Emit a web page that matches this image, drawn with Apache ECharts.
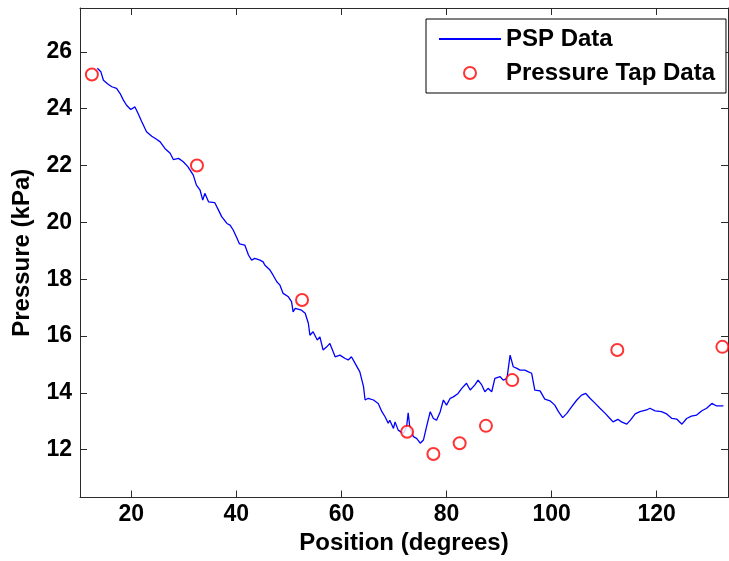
<!DOCTYPE html>
<html>
<head>
<meta charset="utf-8">
<script src="https://cdn.jsdelivr.net/npm/echarts@6/dist/echarts.min.js"></script>
<style>
  html, body { margin: 0; padding: 0; background: #ffffff; }
  #chart { width: 729px; height: 561px; }
</style>
</head>
<body>
<div id="chart"></div>
<script>
// PSP trace: position (degrees) and pressure (kPa)
const pspPosition = [
  13.55, 14.2, 14.7, 15.6, 16.3, 17.2, 17.85, 18.5, 19.1, 19.9,
  20.7, 21.3, 22.0, 22.9, 23.9, 24.8, 25.5, 26.4, 27.4, 28.0,
  29.0, 29.9, 30.8, 31.8, 32.4, 33.1, 33.6, 34.0, 34.7, 35.9,
  36.6, 37.2, 38.2, 38.8, 39.4, 40.1, 40.6, 41.6, 42.3, 42.9,
  43.5, 44.5, 45.1, 45.4, 46.4, 47.0, 47.7, 48.3, 48.9, 49.9,
  50.5, 50.8, 51.2, 52.4, 53.1, 53.7, 54.0, 54.6, 55.4, 55.9,
  56.5, 57.2, 57.8, 58.8, 59.7, 60.7, 61.3, 61.9, 62.6, 63.5,
  64.2, 64.5, 65.1, 66.1, 67.0, 67.7, 68.3, 68.9, 69.2, 69.9,
  70.2, 70.8, 71.4, 71.8, 72.4, 72.7, 73.0, 73.7, 74.3, 75.0,
  75.6, 76.2, 76.9, 77.5, 78.1, 78.8, 79.4, 80.0, 80.7, 81.3,
  82.2, 82.9, 83.8, 84.5, 85.4, 86.0, 86.7, 87.3, 87.9, 88.6,
  89.2, 90.2, 90.8, 91.5, 92.1, 92.4, 92.7, 93.4, 94.0, 94.9,
  95.6, 96.2, 96.8, 97.8, 98.7, 99.7, 100.6, 101.3, 102.1, 102.9,
  103.8, 104.8, 105.7, 106.5, 107.3, 108.3, 109.2, 110.2, 111.1, 111.7,
  112.6, 113.3, 114.3, 115.0, 115.9, 116.8, 118.1, 118.7, 119.7, 120.9,
  121.9, 122.9, 123.8, 124.8, 125.7, 126.6, 127.6, 128.6, 129.5, 130.5,
  131.4, 132.7
];
const pspPressure = [
  25.42, 25.3, 25.0, 24.86, 24.77, 24.71, 24.54, 24.3, 24.12, 23.97,
  24.06, 23.83, 23.54, 23.19, 23.03, 22.92, 22.83, 22.6, 22.43, 22.21,
  22.25, 22.13, 21.95, 21.66, 21.31, 21.13, 20.78, 21.02, 20.72, 20.69,
  20.43, 20.2, 19.96, 19.9, 19.73, 19.45, 19.24, 19.2, 18.85, 18.67,
  18.73, 18.67, 18.61, 18.5, 18.32, 18.14, 17.91, 17.79, 17.5, 17.38,
  17.21, 16.85, 16.97, 16.91, 16.8, 16.45, 16.03, 16.15, 15.86, 15.97,
  15.51, 15.62, 15.74, 15.27, 15.33, 15.21, 15.16, 15.27, 15.04, 14.74,
  14.22, 13.75, 13.81, 13.75, 13.63, 13.34, 13.16, 12.93, 13.04, 12.75,
  12.98, 12.69, 12.62, 12.58, 12.81, 13.3, 12.81, 12.46, 12.4, 12.23,
  12.34, 12.81, 13.34, 13.1, 13.04, 13.34, 13.75, 13.57, 13.81, 13.86,
  13.98, 14.16, 14.34, 14.1, 14.28, 14.45, 14.28, 14.04, 14.16, 14.04,
  14.51, 14.57, 14.45, 14.51, 15.33, 15.27, 14.92, 14.86, 14.8, 14.8,
  14.74, 14.69, 14.1, 14.07, 13.78, 13.72, 13.57, 13.34, 13.13, 13.28,
  13.51, 13.75, 13.92, 13.98, 13.81, 13.63, 13.46, 13.28, 13.1, 12.98,
  13.07, 12.98, 12.9, 13.04, 13.26, 13.34, 13.4, 13.46, 13.37, 13.34,
  13.26, 13.1, 13.08, 12.9, 13.1, 13.18, 13.22, 13.37, 13.46, 13.63,
  13.54, 13.54
];

// Pressure tap readings
const tapPosition = [12.5, 32.5, 52.5, 72.5, 77.5, 82.5, 87.5, 92.5, 112.5, 132.5];
const tapPressure = [25.2, 22.0, 17.27, 12.63, 11.85, 12.23, 12.84, 14.45, 15.51, 15.62];

// Tick marks
const xTicks = [20, 40, 60, 80, 100, 120];
const yTicks = [12, 14, 16, 18, 20, 22, 24, 26];

const X_MIN = 10.24, X_MAX = 133.57;
const Y_MIN = 10.32, Y_MAX = 27.54;

const FONT = '"Liberation Sans", Arial, sans-serif';
const AXIS_COLOR = '#2b2b2b';

const pspData = pspPosition.map((x, i) => [x, pspPressure[i]]);
const tapData = tapPosition.map((x, i) => [x, tapPressure[i]]);

function boxAxis(extra) {
  return Object.assign({
    type: 'value',
    axisLine: { show: true, onZero: false, lineStyle: { color: AXIS_COLOR, width: 1 } },
    splitLine: { show: false }
  }, extra);
}

const chart = echarts.init(document.getElementById('chart'), null, { renderer: 'canvas' });

chart.setOption({
  animation: false,
  backgroundColor: '#ffffff',
  grid: { left: 80, right: 1, top: 8, bottom: 63.5, containLabel: false },
  xAxis: [
    boxAxis({
      position: 'bottom',
      min: X_MIN, max: X_MAX,
      name: 'Position (degrees)',
      nameLocation: 'middle',
      nameGap: 32,
      nameTextStyle: { fontFamily: FONT, fontWeight: 'bold', fontSize: 24, color: '#000' },
      axisTick: { show: true, inside: true, length: 7, customValues: xTicks,
                  lineStyle: { color: AXIS_COLOR } },
      axisLabel: { show: true, customValues: xTicks, margin: 6,
                   fontFamily: FONT, fontWeight: 'bold', fontSize: 23, color: '#000' }
    }),
    boxAxis({
      position: 'top',
      min: X_MIN, max: X_MAX,
      axisTick: { show: true, inside: true, length: 7, customValues: xTicks,
                  lineStyle: { color: AXIS_COLOR } },
      axisLabel: { show: false }
    })
  ],
  yAxis: [
    boxAxis({
      position: 'left',
      min: Y_MIN, max: Y_MAX,
      name: 'Pressure (kPa)',
      nameLocation: 'middle',
      nameGap: 46,
      nameTextStyle: { fontFamily: FONT, fontWeight: 'bold', fontSize: 24, color: '#000' },
      axisTick: { show: true, inside: true, length: 7, customValues: yTicks,
                  lineStyle: { color: AXIS_COLOR } },
      axisLabel: { show: true, customValues: yTicks, margin: 8,
                   fontFamily: FONT, fontWeight: 'bold', fontSize: 23, color: '#000' }
    }),
    boxAxis({
      position: 'right',
      min: Y_MIN, max: Y_MAX,
      axisTick: { show: true, inside: true, length: 7, customValues: yTicks,
                  lineStyle: { color: AXIS_COLOR } },
      axisLabel: { show: false }
    })
  ],
  legend: {
    orient: 'vertical',
    left: 426,
    top: 19,
    align: 'left',
    padding: [7, 11, 7, 12],
    itemGap: 8,
    itemWidth: 62,
    itemHeight: 12,
    backgroundColor: '#ffffff',
    borderColor: '#000000',
    borderWidth: 1,
    borderRadius: 0,
    textStyle: { fontFamily: FONT, fontWeight: 'bold', fontSize: 24, color: '#000', lineHeight: 26 },
    data: [
      // plain line sample, no marker
      { name: 'PSP Data', itemStyle: { opacity: 0 } },
      { name: 'Pressure Tap Data' }
    ]
  },
  series: [
    {
      name: 'PSP Data',
      type: 'line',
      xAxisIndex: 0,
      yAxisIndex: 0,
      data: pspData,
      symbol: 'none',
      smooth: false,
      lineStyle: { color: '#0000ff', width: 1.3 },
      itemStyle: { color: '#0000ff' },
      z: 2
    },
    {
      name: 'Pressure Tap Data',
      type: 'scatter',
      xAxisIndex: 0,
      yAxisIndex: 0,
      data: tapData,
      symbol: 'emptyCircle',
      symbolSize: 12,
      itemStyle: { color: '#ff0000', borderColor: '#ff0000', borderWidth: 1.1 },
      z: 3
    }
  ]
});
</script>
</body>
</html>
